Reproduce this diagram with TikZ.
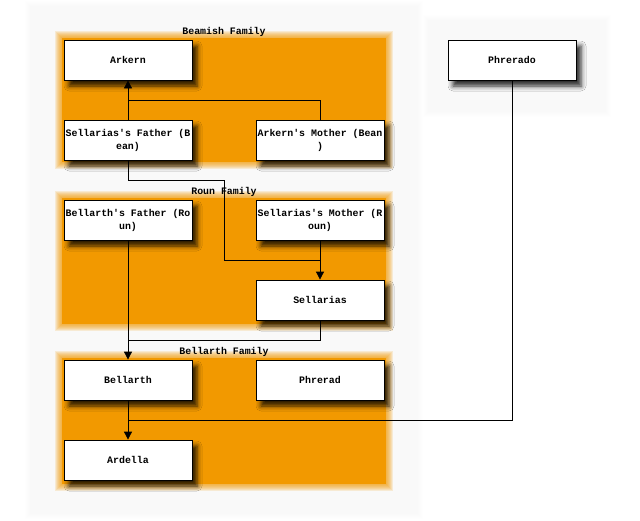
\documentclass[tikz,border=0pt]{standalone}
\usepackage{fontspec}
\setmonofont{Liberation Mono}
\usetikzlibrary{arrows.meta,shadows.blur}
\definecolor{clorange}{RGB}{242,153,0}
\definecolor{bggray}{RGB}{249,249,249}
\tikzset{
  person/.style={draw=black, line width=0.8pt, fill=white, minimum width=128pt, minimum height=40pt,
    inner sep=0pt, align=center, font=\ttfamily\bfseries\fontsize{9.9}{13}\selectfont,
    blur shadow={shadow xshift=5pt, shadow yshift=-6pt, shadow blur radius=5pt, shadow opacity=85}},
  famlabel/.style={font=\ttfamily\bfseries\fontsize{9.9}{12}\selectfont, anchor=base, inner sep=0pt},
  link/.style={draw=black, line width=0.8pt},
  arr/.style={link, -{Triangle[length=8pt,width=8pt]}},
}
\newcommand{\softrect}[7]{% color, x1,y1,x2,y2, steps, opacity
  \foreach \k in {1,...,#6}{
    \fill[#1, opacity=#7] ({#2-#6+\k},{#3-#6+\k}) rectangle ({#4+#6-\k},{#5+#6-\k});
  }
  \fill[#1] (#2,#3) rectangle (#4,#5);
}
\begin{document}
\begin{tikzpicture}[x=1pt,y=-1pt]
\useasboundingbox (0,0) rectangle (640,520);
\fill[white] (0,0) rectangle (640,520);
% faint grey backgrounds
\softrect{bggray}{40}{16}{408}{504}{16}{0.12}
\softrect{bggray}{438}{30}{596}{102}{16}{0.12}
% clusters
\softrect{clorange}{62}{38}{386}{162}{8}{0.15}
\softrect{clorange}{62}{198}{386}{324}{8}{0.15}
\softrect{clorange}{62}{358}{386}{484}{8}{0.15}
\node[famlabel] (lbeam) at (224,34.5) {Beamish Family};
\node[famlabel] (lroun) at (224,194.5) {Roun Family};
\node[famlabel] (lbell) at (224,354.5) {Bellarth Family};
% nodes
\node[person] (ark) at (128,60) {Arkern};
\node[person] (sf) at (128,140) {Sellarias's Father (B\\ean)};
\node[person] (am) at (320,140) {Arkern's Mother (Bean\\)};
\node[person] (bf) at (128,220) {Bellarth's Father (Ro\\un)};
\node[person] (sm) at (320,220) {Sellarias's Mother (R\\oun)};
\node[person] (sel) at (320,300) {Sellarias};
\node[person] (bel) at (128,380) {Bellarth};
\node[person] (phr) at (320,380) {Phrerad};
\node[person] (ard) at (128,460) {Ardella};
\node[person] (pho) at (512,60) {Phrerado};
% junction coordinates
\coordinate (j1) at (128,100);
\coordinate (j2a) at (128,180);
\coordinate (j2b) at (224,180);
\coordinate (j2c) at (224,260);
\coordinate (j2d) at (320,260);
\coordinate (j3) at (128,340);
\coordinate (j4) at (128,420);
% edges
\draw[arr] (sf.north) -- (ark.south);
\draw[link] (am.north) |- (j1);
\draw[arr] (sf.south) -- (j2a) -- (j2b) -- (j2c) -- (j2d) -- (sel.north);
\draw[link] (sm.south) -- (j2d);
\draw[arr] (bf.south) -- (bel.north);
\draw[link] (sel.south) |- (j3);
\draw[arr] (bel.south) -- (ard.north);
\draw[link] (pho.south) |- (j4);
\end{tikzpicture}
\end{document}
